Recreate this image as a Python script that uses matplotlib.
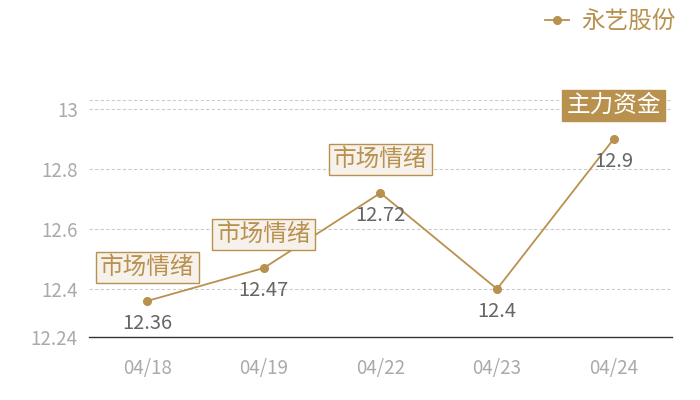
import matplotlib
matplotlib.use('Agg')
import matplotlib.pyplot as plt

plt.rcParams['font.family'] = ['Noto Sans CJK SC', 'DejaVu Sans']

dates = ['04/18', '04/19', '04/22', '04/23', '04/24']
prices = [12.36, 12.47, 12.72, 12.4, 12.9]
tags = ['市场情绪', '市场情绪', '市场情绪', None, '主力资金']
yticks = [12.24, 12.4, 12.6, 12.8, 13]
series_name = '永艺股份'

gold = '#b8914f'

fig = plt.figure(figsize=(7, 4), dpi=100)
ax = fig.add_axes([0.127, 0.1575, 0.833, 0.5925])

x = list(range(len(dates)))
ax.plot(x, prices, color=gold, lw=1.3, marker='o', ms=5.5, label=series_name, zorder=3)

ax.set_xlim(-0.5, len(dates) - 0.5)
ax.set_ylim(12.24, 13.03)
ax.set_yticks(yticks)
ax.set_yticklabels([('%g' % v) for v in yticks])
ax.set_xticks(x)
ax.set_xticklabels(dates)
ax.tick_params(length=0, colors='#aaaaaa', labelsize=13.5)
ax.tick_params(axis='x', pad=15)
ax.tick_params(axis='y', pad=8)

for v in yticks[1:] + [13.03]:
    ax.axhline(v, color='#cccccc', lw=0.8, ls=(0, (3, 2)), zorder=1)

for s in ['top', 'right', 'left']:
    ax.spines[s].set_visible(False)
ax.spines['bottom'].set_color('#333333')
ax.spines['bottom'].set_linewidth(1)

for i, (p, t) in enumerate(zip(prices, tags)):
    ax.annotate('%g' % p, (i, p), xytext=(0, -16), textcoords='offset points',
                ha='center', va='center', fontsize=14.5, color='#666666', zorder=4)
    if t is None:
        continue
    if t == '主力资金':
        fc, tc = gold, 'white'
    else:
        fc, tc = '#f6f1eb', gold
    ax.annotate(t, (i, p), xytext=(0, 24), textcoords='offset points',
                ha='center', va='center', fontsize=17, color=tc, zorder=5,
                bbox=dict(boxstyle='square,pad=0.18', fc=fc, ec=gold, lw=1))

ax.legend(loc='upper right', bbox_to_anchor=(0.985, 1.01), bbox_transform=fig.transFigure,
          frameon=False, fontsize=17, labelcolor=gold, handlelength=1.0,
          handletextpad=0.5, borderaxespad=0.2)

fig.savefig('out.png', dpi=100)
